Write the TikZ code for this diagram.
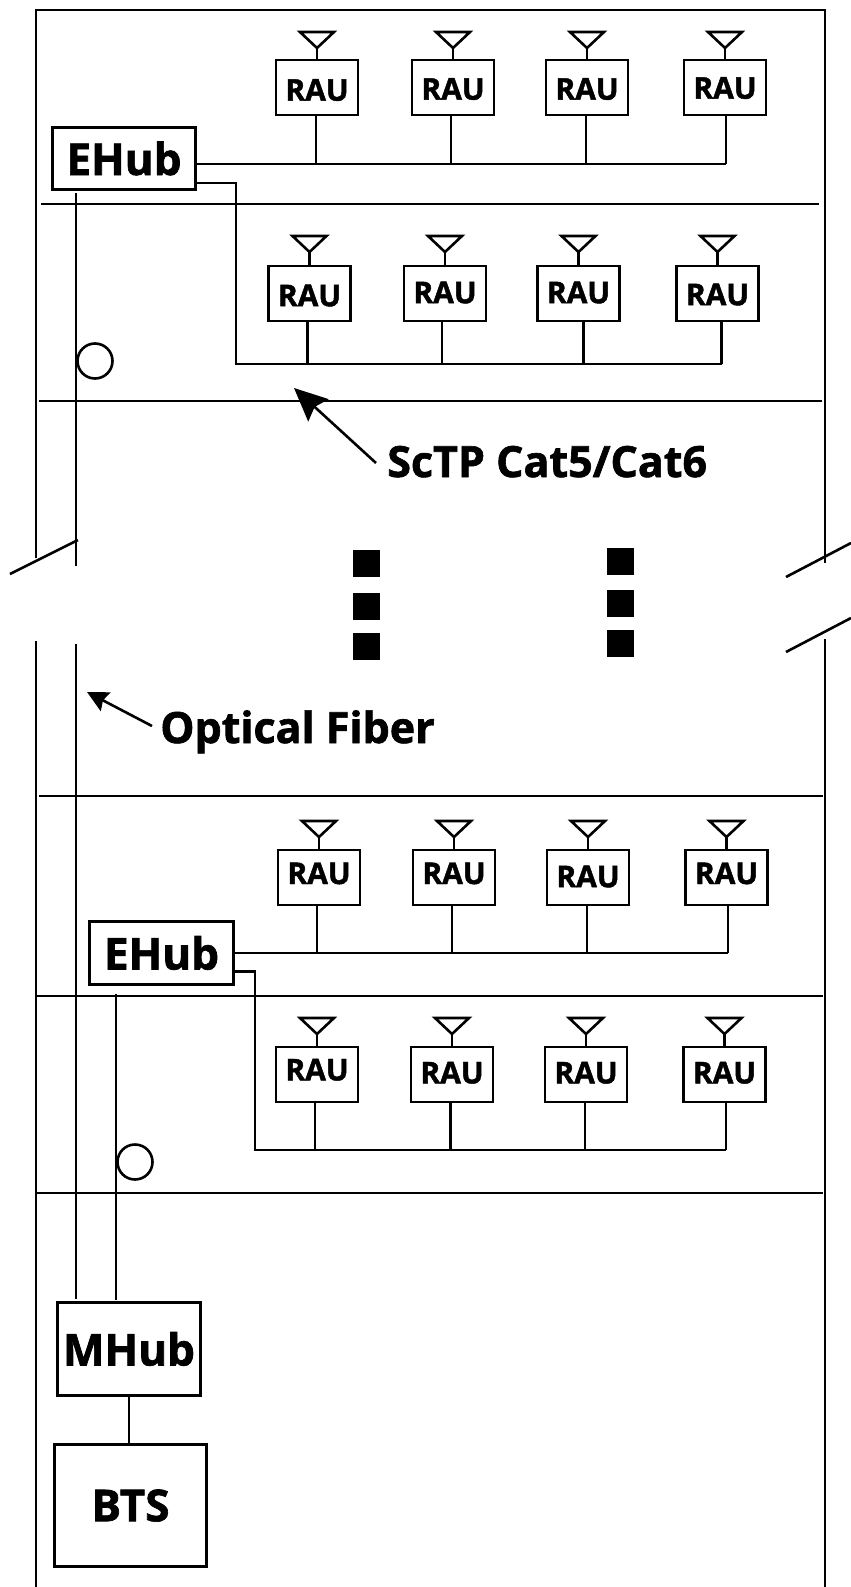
\documentclass[tikz,border=0pt]{standalone}
\usepackage{fontspec}
\setmainfont[BoldFeatures={FakeBold=1.5}]{Open Sans}
\usepackage{tikz}
\usetikzlibrary{arrows.meta, calc}

\begin{document}
\begin{tikzpicture}[
    x=1pt, y=-1pt,
    line width=2.6pt,
    font=\bfseries,
    raubox/.style={draw, inner sep=0pt, minimum width=81.7pt, minimum height=55pt, font=\fontsize{30}{30}\bfseries},
    hubbox/.style={draw, inner sep=0pt, minimum width=143.5pt, minimum height=62.5pt, font=\fontsize{44}{44}\bfseries},
    dotbox/.style={fill=black, inner sep=0pt, minimum size=27pt},
    biglabel/.style={anchor=base west, inner sep=0pt, font=\fontsize{43}{43}\bfseries},
    bigarrow/.style={-{Stealth[length=33pt, width=30pt, inset=5pt]}},
    smallarrow/.style={-{Stealth[length=21pt, width=21pt, inset=3pt]}},
  ]
  \useasboundingbox (0,0) rectangle (851,1587);

  % building outline, broken in the middle
  \draw (36,558) -- (36,10) -- (825,10) -- (825,563);
  \draw (36,641) -- (36,1587);
  \draw (825,639) -- (825,1587);
  \draw (10,574) -- (78,540);
  \draw (786,577) -- (851,543);
  \draw (786,652) -- (851,618);

  % floors
  \draw (41,204) -- (819,204);
  \draw (39,401) -- (822,401);
  \draw (39,796) -- (823,796);
  \draw (36,996) -- (823,996);
  \draw (36,1193) -- (823,1193);

  % hubs
  \node[hubbox] (ehubA) at (124,158.5) {EHub};
  \node[hubbox] (ehubB) at (161.5,953) {EHub};
  \node[hubbox, minimum height=92.5pt] (mhub) at (129,1349) {MHub};
  \node[hubbox, minimum width=152pt, minimum height=121.5pt] (bts) at (130.5,1505.5) {BTS};
  \draw (mhub.south) -- (mhub.south |- bts.north);

  % named points of the cables
  \coordinate (busA) at (726,164);
  \coordinate (busB) at (722,364);
  \coordinate (busC) at (728,953);
  \coordinate (busD) at (726,1150);
  \coordinate (dropA) at (236,183);
  \coordinate (dropB) at (255,971.5);
  \coordinate (fibA) at (76,566);
  \coordinate (fibB) at (76,644);
  \coordinate (fibC) at (116,1300);

  % fibers
  \draw ([yshift=-2pt]ehubA.south -| fibA) -- (fibA);
  \draw (fibB) -- ([yshift=2pt]mhub.north -| fibB);
  \draw ([yshift=-8pt]ehubB.south -| fibC) -- (fibC);
  \node[draw, circle, inner sep=0pt, minimum size=35pt] (loopA) at (95,361) {};
  \node[draw, circle, inner sep=0pt, minimum size=35pt] (loopB) at (135,1162) {};

  % copper runs
  \draw (ehubA.east |- busA) -- (busA);
  \draw (ehubA.east |- dropA) -- (dropA) -- (dropA |- busB) -- (busB);
  \draw (ehubB.east |- busC) -- (busC);
  \draw (ehubB.east |- dropB) -- (dropB) -- (dropB |- busD) -- (busD);

  % RAUs: name/centre/stem offset/text raise
  \foreach \n/\cx/\sx/\ty in {a1/317/-1/-13.2, a2/453/-2/-12.2, a3/587/-1/-12.2, a4/725/1/-11.2} {
    \node[raubox] (r\n) at (\cx,87.5) {\raisebox{\ty pt}[7pt][7pt]{RAU}};
    \coordinate (t\n) at (\cx,48);
    \draw (t\n) -- ++(-17,-16) -- ++(34,0) -- cycle;
    \draw (t\n) -- (r\n.north);
    \draw ([xshift=\sx pt]r\n.south) -- ([xshift=\sx pt]r\n.south |- busA);
  }
  \foreach \n/\cx/\sx/\ty in {b1/309.5/-2/-12.7, b2/445/-3/-9.7, b3/578.5/5/-9.7, b4/717.5/4/-11.7} {
    \node[raubox] (r\n) at (\cx,293.5) {\raisebox{\ty pt}[7pt][7pt]{RAU}};
    \coordinate (t\n) at (\cx,252);
    \draw (t\n) -- ++(-17,-16) -- ++(34,0) -- cycle;
    \draw (t\n) -- (r\n.north);
    \draw ([xshift=\sx pt]r\n.south) -- ([xshift=\sx pt]r\n.south |- busB);
  }
  \foreach \n/\cx/\sx/\ty in {c1/319/-2/-6.5, c2/454/-2/-6.5, c3/588/-1/-9.7, c4/726.5/1.5/-6.5} {
    \node[raubox] (r\n) at (\cx,877.5) {\raisebox{\ty pt}[7pt][7pt]{RAU}};
    \coordinate (t\n) at (\cx,837);
    \draw (t\n) -- ++(-17,-16) -- ++(34,0) -- cycle;
    \draw (t\n) -- (r\n.north);
    \draw ([xshift=\sx pt]r\n.south) -- ([xshift=\sx pt]r\n.south |- busC);
  }
  \foreach \n/\cx/\sx/\ty in {d1/317/-2/-5.9, d2/452/-1.5/-8.9, d3/586/-1/-8.9, d4/724.5/1.5/-8.9} {
    \node[raubox] (r\n) at (\cx,1074.5) {\raisebox{\ty pt}[7pt][7pt]{RAU}};
    \coordinate (t\n) at (\cx,1034);
    \draw (t\n) -- ++(-17,-16) -- ++(34,0) -- cycle;
    \draw (t\n) -- (r\n.north);
    \draw ([xshift=\sx pt]r\n.south) -- ([xshift=\sx pt]r\n.south |- busD);
  }

  % more floors in between
  \foreach \i/\x/\y in {1/366/563.5, 2/366/606.5, 3/366/646.5, 4/620/561.5, 5/620/603.5, 6/620/643.5} {
    \node[dotbox] (dot\i) at (\x,\y) {};
  }

  % labels
  \node[biglabel] (sctp) at (386,477) {ScTP Cat5/Cat6};
  \node[biglabel] (fiber) at (159,743) {Optical Fiber};
  \coordinate (sctpTail) at (376,463);
  \coordinate (sctpTip) at (294,388);
  \coordinate (fiberTail) at (152,726);
  \coordinate (fiberTip) at (87,692);
  \draw[bigarrow] (sctpTail) -- (sctpTip);
  \draw[smallarrow] (fiberTail) -- (fiberTip);
\end{tikzpicture}
\end{document}
